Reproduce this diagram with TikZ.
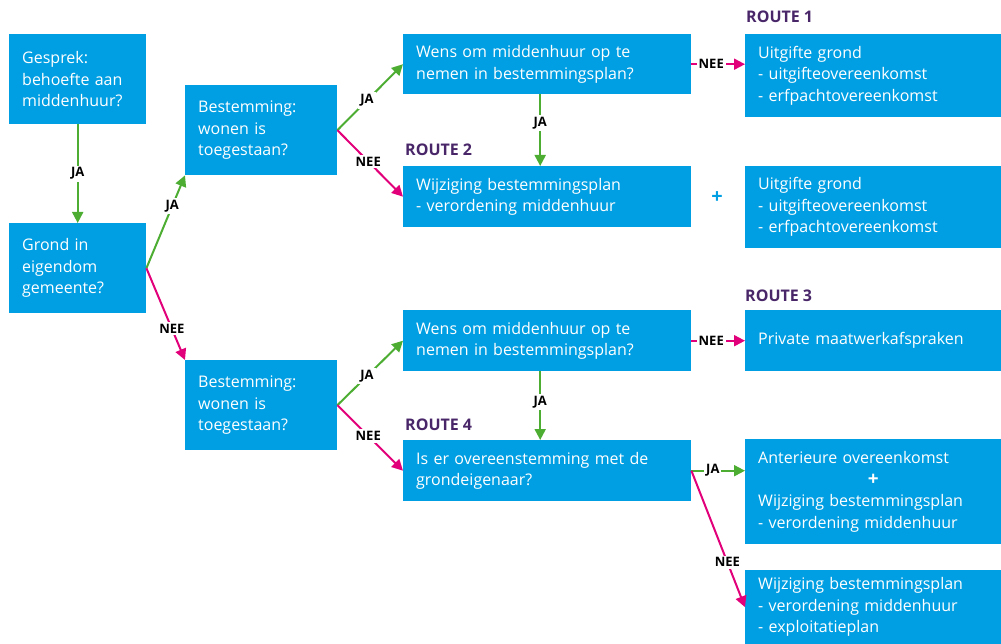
\documentclass[tikz,border=0pt]{standalone}
\usepackage{fontspec}
\setmainfont{Open Sans}
\usetikzlibrary{arrows.meta}
\definecolor{roblue}{RGB}{0,159,227}
\definecolor{rogreen}{RGB}{76,173,50}
\definecolor{romagenta}{RGB}{226,0,122}
\definecolor{ropurple}{RGB}{72,38,104}
\begin{document}
\begin{tikzpicture}[x=1pt, y=-1pt,
  box/.style 2 args={fill=roblue, text=white, anchor=north west, inner xsep=13pt, inner ysep=3pt, text width=#1, minimum height=#2, align=left, font=\fontsize{16}{21.5}\selectfont},
  route/.style={anchor=west, inner sep=0pt, text=ropurple, font=\bfseries\fontsize{16}{19}\selectfont},
  lab/.style={fill=white, inner sep=2pt, text=black, font=\bfseries\fontsize{13}{15}\selectfont},
  yes/.style={draw=rogreen, line width=2pt, -{Triangle[length=11pt,width=11pt]}},
  no/.style={draw=romagenta, line width=2pt, -{Triangle[length=11pt,width=11pt]}}]
\useasboundingbox (0,0) rectangle (1001,644);

\node (gesprek) at (9,34) [box={111pt}{90pt}] {Gesprek:\\behoefte aan\\middenhuur?};
\node (grond) at (9,223) [box={111pt}{90pt}] {Grond in\\eigendom\\gemeente?};
\node (best1) at (185,85) [box={126pt}{90pt}] {Bestemming:\\wonen is\\toegestaan?};
\node (best2) at (185,360) [box={126pt}{90pt}] {Bestemming:\\wonen is\\toegestaan?};
\node (wens1) at (403,34) [box={262pt}{60pt}] {Wens om middenhuur op te\\nemen in bestemmingsplan?};
\node (wijz1) at (403,166) [box={262pt}{61pt}] {Wijziging bestemmingsplan\\- verordening middenhuur};
\node (wens2) at (403,310) [box={262pt}{61pt}] {Wens om middenhuur op te\\nemen in bestemmingsplan?};
\node (overeen) at (403,440) [box={262pt}{61pt}] {Is er overeenstemming met de\\grondeigenaar?};
\node (uitg1) at (745,34) [box={230pt}{83pt}] {Uitgifte grond\\- uitgifteovereenkomst\\- erfpachtovereenkomst};
\node (uitg2) at (745,166) [box={230pt}{82pt}] {Uitgifte grond\\- uitgifteovereenkomst\\- erfpachtovereenkomst};
\node (private) at (745,310) [box={230pt}{61pt}] {Private maatwerkafspraken};
\node (anter) at (745,439) [box={230pt}{105pt}] {Anterieure overeenkomst\\\makebox[230pt]{\bfseries\fontsize{19}{21.5}\selectfont +}\\Wijziging bestemmingsplan\\- verordening middenhuur};
\node (exploit) at (745,570) [box={230pt}{74pt}] {Wijziging bestemmingsplan\\- verordening middenhuur\\- exploitatieplan};

\node (r1) at (746,17) [route] {ROUTE 1};
\node (r2) at (405,150) [route] {ROUTE 2};
\node (r3) at (745,296) [route] {ROUTE 3};
\node (r4) at (405,425) [route] {ROUTE 4};
\node (plus) at (717,198) [text=roblue, font=\bfseries\fontsize{20}{22}\selectfont] {+};

\draw[yes] (gesprek) -- node[lab] {JA} (grond);
\draw[yes] (grond.east) -- node[lab, pos=0.67] {JA} (best1.south west);
\draw[no] (grond.east) -- node[lab, pos=0.66] {NEE} (best2.north west);
\draw[yes] (best1.east) -- node[lab, pos=0.45] {JA} (wens1.west);
\draw[no] (best1.east) -- node[lab, pos=0.47] {NEE} (wijz1.west);
\draw[yes] ([xshift=-7pt]wens1.south) -- node[lab, pos=0.4] {JA} ([xshift=-7pt]wijz1.north);
\draw[no] (wens1.east) -- node[lab, pos=0.37] {NEE} (wens1.east -| uitg1.west);
\draw[yes] (best2.east) -- node[lab, pos=0.45] {JA} (wens2.west);
\draw[no] (best2.east) -- node[lab, pos=0.47] {NEE} (overeen.west);
\draw[yes] ([xshift=-7pt]wens2.south) -- node[lab, pos=0.45] {JA} ([xshift=-7pt]overeen.north);
\draw[no] (wens2.east) -- node[lab, pos=0.37] {NEE} (wens2.east -| private.west);
\draw[yes] (overeen.east) -- node[lab, pos=0.4] {JA} (overeen.east -| anter.west);
\draw[no] (overeen.east) -- node[lab, pos=0.67] {NEE} (exploit.west);
\end{tikzpicture}
\end{document}
